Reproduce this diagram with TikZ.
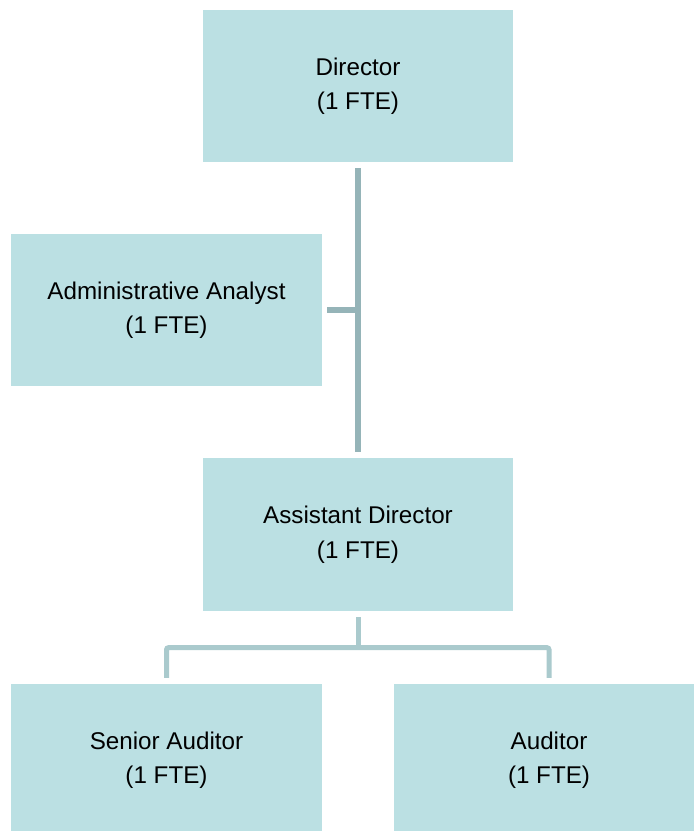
\documentclass[tikz,border=0pt]{standalone}
\usepackage{fontspec}
\setmainfont{Liberation Sans}
\usetikzlibrary{calc}
\definecolor{boxfill}{HTML}{BBE0E3}
\definecolor{linkupper}{HTML}{95B4B8}
\definecolor{linklower}{HTML}{AACACD}
\begin{document}
\begin{tikzpicture}[x=1pt,y=-1pt,
  post/.style={rectangle, fill=boxfill, draw=none, inner sep=0pt,
    minimum width=310pt, minimum height=152pt, align=center,
    text=black, font=\fontsize{24.2}{34.5}\selectfont},
  linkA/.style={draw=linkupper, line width=6pt},
  linkB/.style={draw=linklower, line width=5pt, rounded corners=2pt}]
\useasboundingbox (0,0) rectangle (694,831);
\fill[white] (0,0) rectangle (694,831);

% positions
\node[post] (dir) at (358,86) {Director\\(1 FTE)};
\node[post, minimum width=311pt] (adm) at (166.5,310) {Administrative Analyst\\(1 FTE)};
\node[post, minimum height=153pt] (ad) at (358,534.5) {Assistant Director\\(1 FTE)};
\node[post, minimum width=311pt] (sa) at (166.5,760) {Senior Auditor\\(1 FTE)};
\node[post] (au) at (549,760) {Auditor\\(1 FTE)};

% connectors: director to assistant director, with the analyst branch
\coordinate (dirbot) at ([yshift=-6pt]dir.south);
\coordinate (adtop) at ([yshift=6pt]ad.north);
\coordinate (admj) at ([xshift=5pt]adm.east);
\draw[linkA] (dirbot) -- (adtop);
\draw[linkA] (admj) -- (admj -| dirbot);

% connectors: assistant director to the auditors
\coordinate (adbot) at ([yshift=-6pt]ad.south);
\coordinate (sat) at ([yshift=6pt]sa.north);
\coordinate (aut) at ([yshift=6pt]au.north);
\coordinate (bus) at ($(adbot)+(0,30.5)$);
\draw[linkB] (adbot) -- (bus);
\draw[linkB] (sat) |- (bus) -| (aut);
\end{tikzpicture}
\end{document}
